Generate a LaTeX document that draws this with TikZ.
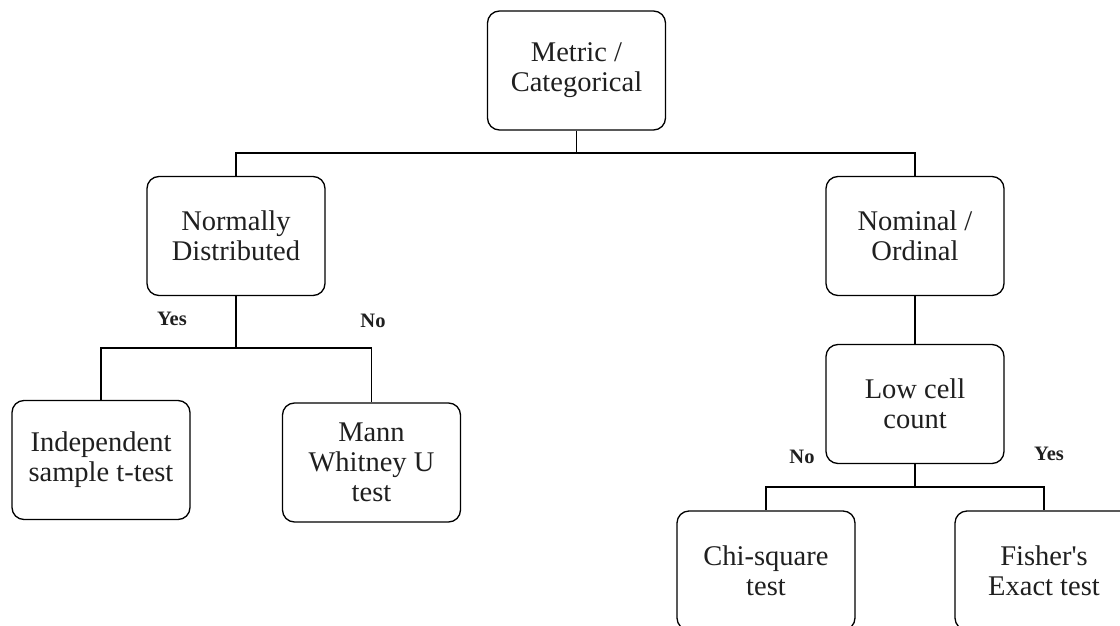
\documentclass[tikz,border=0pt]{standalone}
\usepackage{fontspec}
\setmainfont{Liberation Serif}[Ligatures=TeXOff]
\begin{document}
\begin{tikzpicture}[x=1pt,y=-1pt,
  box/.style={draw, line width=1.3pt, rounded corners=12pt, minimum width=178pt, minimum height=119pt, align=center, font=\fontsize{28.5}{30}\selectfont, inner sep=0pt, text=black!88},
  lbl/.style={font=\fontsize{20.5}{23}\selectfont\bfseries, text=black!88},
  conn/.style={line width=1.3pt}]
\useasboundingbox (0,0) rectangle (1120,626);
\clip (0,0) rectangle (1120,626);
\node[box] (root) at (576.5,70.5) {Metric /\\Categorical};
\node[box] (norm) at (236,236) {Normally\\Distributed};
\node[box] (nom) at (915,236) {Nominal /\\Ordinal};
\node[box] (ind) at (101,460) {Independent\\sample t-test};
\node[box] (mann) at (371.5,462.5) {Mann\\Whitney U\\test};
\node[box] (low) at (915,404) {Low cell\\count};
\node[box] (chi) at (766,570.5) {Chi-square\\test};
\node[box] (fis) at (1044,570.5) {Fisher's\\Exact test};
\coordinate (j1) at (576.5,153);
\coordinate (j2) at (236,348);
\coordinate (j3) at (915,487);
\draw[conn] (root.south) -- (j1) -| (norm.north);
\draw[conn] (j1) -| (nom.north);
\draw[conn] (norm.south) -- (j2) -| (ind.north);
\draw[conn] (j2) -| (mann.north);
\draw[conn] (nom.south) -- (low.north);
\draw[conn] (low.south) -- (j3) -| (chi.north);
\draw[conn] (j3) -| (fis.north);
\node[lbl] (yes1) at (172,319) {Yes};
\node[lbl] (no1) at (373,321) {No};
\node[lbl] (no2) at (802,457) {No};
\node[lbl] (yes2) at (1049,454) {Yes};
\end{tikzpicture}
\end{document}
